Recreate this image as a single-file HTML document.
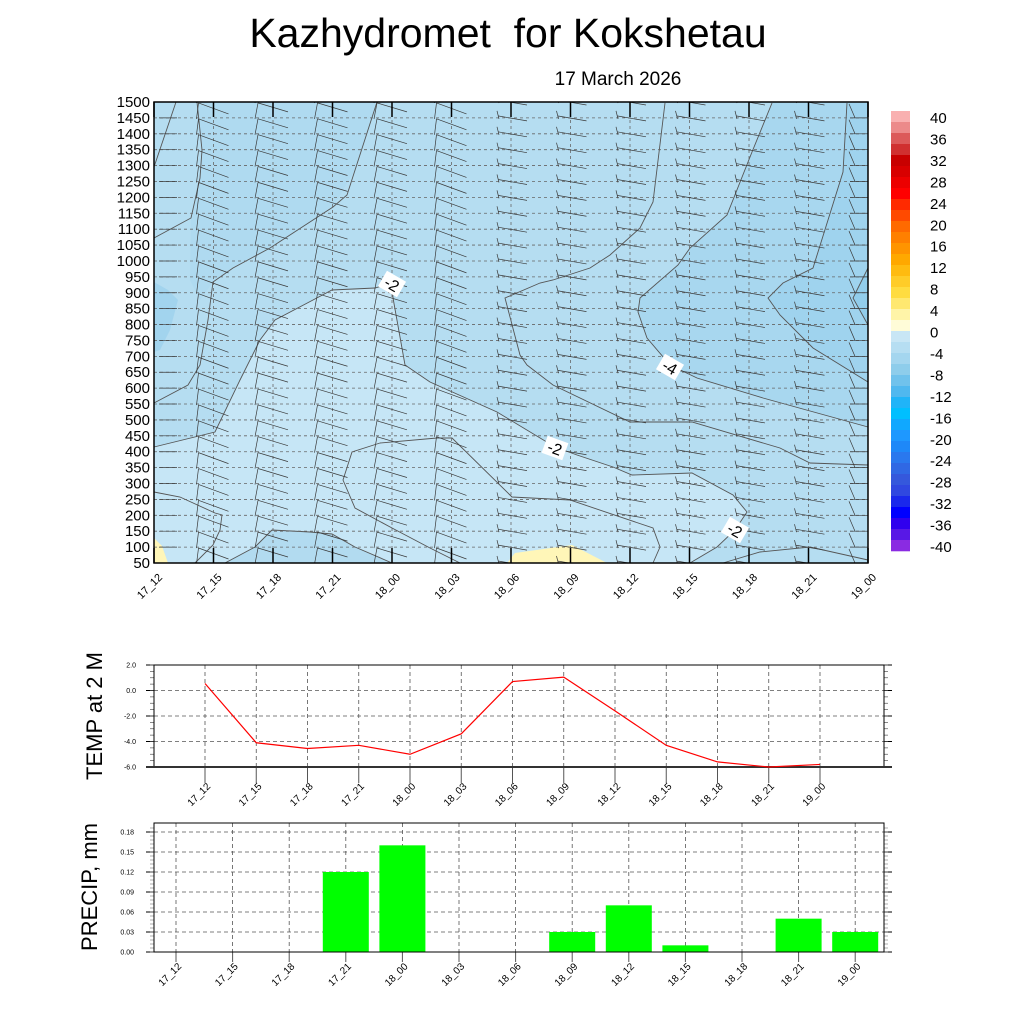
<!DOCTYPE html>
<html><head><meta charset="utf-8"><style>
html,body{margin:0;padding:0;background:#fff;}
svg{display:block;font-family:"Liberation Sans",sans-serif;}
</style></head><body>
<svg id="svg" width="1024" height="1024" viewBox="0 0 1024 1024">
<defs><clipPath id="pc"><rect x="154" y="102" width="714" height="461"/></clipPath></defs>
<text x="508" y="47" font-size="41" text-anchor="middle" xml:space="preserve">Kazhydromet  for Kokshetau</text>
<text x="618" y="85" font-size="19" text-anchor="middle">17 March 2026</text>
<g id="main">
  <rect x="154" y="102" width="714" height="461" fill="#b5ddf1"/>
  <polygon fill="#c6e6f6" points="154,447 215,432 240,380 260,340 275,320 313,300 332,290 375,288 392,283 393,298 405,365 430,382 497,412 555,447 577,455 613,467 632,475 692,473 733,495 747,512 735,530 717,547 690,563 154,563"/>
  <polygon fill="#b2dbf0" points="225,563 255,547 272,530 310,532 332,534 355,547 392,563"/>
  <polygon fill="#a8d7ef" points="772,103 752,152 727,215 690,248 678,265 640,298 638,312 647,338 670,365 697,378 763,398 868,427 868,103"/>
  <polygon fill="#9fd3ee" points="847,103 843,172 813,268 783,283 768,298 780,315 813,348 868,382 868,103"/>
  <polygon fill="#92cdeb" points="856,103 868,103 868,270 853,298 868,325 868,103"/>
  <polygon fill="#a2d4ee" points="154,282 168,290 178,300 170,330 160,350 154,352"/>
  <polygon fill="#afdaf0" points="197,102 377,102 355,170 333,207 313,220 270,248 233,268 213,282 200,300 190,280 191,218 200,178 202,150"/>
  <polygon fill="#fff6b8" points="154,538 162,546 168,563 154,563"/>
  <polygon fill="#fff6b8" points="507,563 515,553 572,545 607,563"/>
  <g id="contours" fill="none" stroke="#555" stroke-width="0.9"></g>
  <g id="grid"></g>
  <g id="barbs" stroke="#3a3a3a" stroke-width="0.7" clip-path="url(#pc)"></g>
  <g id="clabels"></g>
  <rect x="154" y="102" width="714" height="461" fill="none" stroke="#000" stroke-width="1.5"/>
  <g id="mainAxes"></g>
</g>
<g id="cbar"></g>
<g id="temp"></g>
<g id="precip"></g>
</svg>
<script>
const NS="http://www.w3.org/2000/svg";
const times=["17_12","17_15","17_18","17_21","18_00","18_03","18_06","18_09","18_12","18_15","18_18","18_21","19_00"];
const levels=[50,100,150,200,250,300,350,400,450,500,550,600,650,700,750,800,850,900,950,1000,1050,1100,1150,1200,1250,1300,1350,1400,1450,1500];
const tempValues=[0.55,-4.1,-4.55,-4.3,-5.0,-3.4,0.7,1.05,-1.6,-4.3,-5.6,-6.0,-5.8];
const tempTicks=[2.0,0.0,-2.0,-4.0,-6.0];
const precipValues=[0,0,0,0.12,0.16,0,0,0.03,0.07,0.01,0,0.05,0.03];
const precipTicks=[0,0.03,0.06,0.09,0.12,0.15,0.18];
const barbStyle=[0,1,2,2,2,1,3,3,3,3,3,3,4];
const cbarLabels=[40,36,32,28,24,20,16,12,8,4,0,-4,-8,-12,-16,-20,-24,-28,-32,-36,-40];
const cbarColorsHigh=["#f9b0b0","#ec8a8a","#dc5a5a","#d03030","#c80000","#d80000","#ec0000","#ff0000","#ff2a00","#ff4a00","#ff6a00","#ff8000","#ff9400","#ffa800","#ffbb10","#ffcc28","#ffdc40","#ffe870","#fff4a8","#fffcd8"];
const cbarColorsLow=["#c8e6f5","#b6def2","#a4d6ef","#8ecdeb","#70c2ec","#50b8ef","#20b4f8","#00bfff","#10a8ff","#1e98ff","#1e88f8","#2a78ee","#3068e4","#3558dc","#3048e0","#1a28ec","#0000ff","#3000ee","#5818e6","#8a2be2"];

function el(tag,attrs,parent){const e=document.createElementNS(NS,tag);for(const k in attrs)e.setAttribute(k,attrs[k]);parent.appendChild(e);return e;}

const mX0=154,mX1=868,mY0=563,mY1=102;
function mx(i){return mX0+i*(mX1-mX0)/(times.length-1);}
function my(h){return mY0-(h-50)*(mY0-mY1)/(1500-50);}
const grid=document.getElementById('grid');
levels.forEach(h=>{const l=el('line',{x1:mX0,x2:mX1,y1:my(h),y2:my(h),stroke:'#666','stroke-width':0.8,'stroke-dasharray':'3,3'},grid);

});
times.forEach((t,i)=>{const l=el('line',{x1:mx(i),x2:mx(i),y1:mY1,y2:mY0,stroke:'#666','stroke-width':0.8,'stroke-dasharray':'3,3'},grid);

});
const ax=document.getElementById('mainAxes');
levels.forEach(h=>{const t=el('text',{x:150,y:my(h)+5,'font-size':15,'text-anchor':'end'},ax);t.textContent=h;

});
times.forEach((s,i)=>{const x=mx(i);
el('line',{x1:x,x2:x,y1:mY0,y2:mY0-15,stroke:'#000','stroke-width':1.5},ax);
el('line',{x1:x,x2:x,y1:mY1,y2:mY1+15,stroke:'#000','stroke-width':1.5},ax);
const t=el('text',{x:x+9,y:mY0+15,'font-size':11,'text-anchor':'end',transform:`rotate(-45 ${x+9} ${mY0+15})`},ax);t.textContent=s;

});

const bg=document.getElementById('barbs');
times.forEach((s,i)=>{const x=mx(i);levels.forEach(h=>{const y=my(h);const st=barbStyle[i];let d='';
if(st===0){d=`M${x+5},${y}L${x+23},${y}`;}
else if(st===1){d=`M${x-17},${y+1}L${x-15},${y-15}M${x-15},${y-15}L${x+15},${y-4}`;}
else if(st===2){d=`M${x-18},${y+1}L${x-15},${y-15}M${x-15},${y-15}L${x+15},${y-6}`;}
else if(st===3){d=`M${x-14},${y-7}L${x-12},${y+1}M${x-13},${y-2}L${x+16},${y+3}`;}
else {d=`M${x-18},${y}L${x},${y}M${x-19},${y-14}L${x-13},${y}`;}
const p=el('path',{d:d,fill:'none'},bg);

});});

const cl=document.getElementById('contours');
const lines=[
"176,102 154,167","197,102 202,150 200,178 191,218 154,238",
"377,102 347,195 333,207 313,220 270,248 233,268 213,282 208,320 200,365 188,385 154,403",
"154,447 215,432 240,380 260,340 275,320 313,300 332,290 375,288 392,283 393,298 405,365 430,382 497,412 555,447 577,455 613,467 632,475 692,473 733,495 747,512 735,530 717,547 690,563",
"772,103 752,152 727,215 690,248 678,265 640,298 638,312 647,338 670,365 697,378 763,398 868,427",
"665,103 653,202 640,228 610,255 590,268 553,280 540,283 505,298 520,355 527,365 553,385 630,422 692,422 780,448 810,463 868,465",
"847,103 843,172 813,268 783,283 768,298 780,315 813,348 868,382",
"868,268 853,298 868,325",
"380,443 437,438 452,438 512,497 570,500 653,528 660,547 653,563",
"380,443 352,452 343,480 355,508 392,528 430,548 460,563",
"723,563 760,552 810,547 868,560",
"154,492 180,497 215,513 222,515 220,530 213,545 195,563",
"225,563 255,547 272,530 310,532 332,534 355,547 392,563"];
lines.forEach(pts=>{const p=el('polyline',{points:pts},cl);

});
const clab=document.getElementById('clabels');
[[392,284,'-2',-60],[670,367,'-4',-60],[555,448,'-2',-70],[735,530,'-2',-60]].forEach(a=>{
const g=el('g',{transform:`translate(${a[0]},${a[1]}) rotate(${a[3]+90})`},clab);
el('rect',{x:-11,y:-9,width:22,height:18,fill:'#fff'},g);
const t=el('text',{x:0,y:6,'font-size':16,'text-anchor':'middle'},g);t.textContent=a[2];

});

const cb=document.getElementById('cbar');
const allC=cbarColorsHigh.concat(cbarColorsLow);
allC.forEach((c,k)=>{const r=el('rect',{x:891,y:111+k*11,width:19,height:11.3,fill:c},cb);

});
cbarLabels.forEach((v,k)=>{const t=el('text',{x:930,y:117+k*21.45+6,'font-size':15},cb);t.textContent=v;

});

const tg=document.getElementById('temp');
const tX0=154,tX1=884,tY0=767,tY1=665;
function tx(i){return 205+i*51.25;}
function ty(v){return tY0-(v+6)*(tY0-tY1)/8;}
times.forEach((s,i)=>{const x=tx(i);
el('line',{x1:x,x2:x,y1:tY1,y2:tY0,stroke:'#555','stroke-width':0.8,'stroke-dasharray':'4,3'},tg);
el('line',{x1:x,x2:x,y1:tY0,y2:tY0+16,stroke:'#555','stroke-width':1},tg);
const t=el('text',{x:x+6,y:tY0+20,'font-size':10,'text-anchor':'end',transform:`rotate(-45 ${x+6} ${tY0+20})`},tg);t.textContent=s;

});
tempTicks.forEach(v=>{const y=ty(v);
el('line',{x1:tX0,x2:tX1,y1:y,y2:y,stroke:'#555','stroke-width':0.8,'stroke-dasharray':'4,3'},tg);
el('line',{x1:tX0-8,x2:tX0,y1:y,y2:y,stroke:'#000'},tg);el('line',{x1:tX1,x2:tX1+8,y1:y,y2:y,stroke:'#000'},tg);
const t=el('text',{x:tX0-18,y:y+2.5,'font-size':7,'text-anchor':'end'},tg);t.textContent=v.toFixed(1);

});
for(let v=-6;v<=2;v+=0.5){const y=ty(v);el('line',{x1:tX0-4,x2:tX0,y1:y,y2:y,stroke:'#555','stroke-width':0.7},tg);el('line',{x1:tX1,x2:tX1+4,y1:y,y2:y,stroke:'#555','stroke-width':0.7},tg);}
el('rect',{x:tX0,y:tY1,width:tX1-tX0,height:tY0-tY1,fill:'none',stroke:'#000','stroke-width':1},tg);
el('line',{x1:tX0-8,x2:tX1+8,y1:tY0,y2:tY0,stroke:'#333','stroke-width':2},tg);
const tl=el('polyline',{points:tempValues.map((v,i)=>tx(i)+','+ty(v)).join(' '),fill:'none',stroke:'#ff0000','stroke-width':1.2},tg);


const tt=el('text',{x:102,y:716,'font-size':22,'text-anchor':'middle',transform:'rotate(-90 102 716)'},tg);tt.textContent='TEMP at 2 M';



const pg=document.getElementById('precip');
const pX0=154,pX1=884,pY0=952,pY1=823;
function px(i){return 176+i*56.6;}
function py(v){return pY0-v*(952-832)/0.18;}
times.forEach((s,i)=>{const x=px(i);
el('line',{x1:x,x2:x,y1:pY1,y2:pY0,stroke:'#555','stroke-width':0.8,'stroke-dasharray':'4,3'},pg);
el('line',{x1:x,x2:x,y1:pY0,y2:pY0+10,stroke:'#555','stroke-width':1},pg);
const t=el('text',{x:x+6,y:pY0+15,'font-size':10,'text-anchor':'end',transform:`rotate(-45 ${x+6} ${pY0+15})`},pg);t.textContent=s;

});
precipTicks.forEach(v=>{const y=py(v);
el('line',{x1:pX0,x2:pX1,y1:y,y2:y,stroke:'#555','stroke-width':0.8,'stroke-dasharray':'4,3'},pg);
el('line',{x1:pX0-8,x2:pX0,y1:y,y2:y,stroke:'#000'},pg);el('line',{x1:pX1,x2:pX1+8,y1:y,y2:y,stroke:'#000'},pg);
const t=el('text',{x:pX0-20,y:y+2.5,'font-size':7,'text-anchor':'end'},pg);t.textContent=v.toFixed(2);

});
for(let v=0;v<=0.19;v+=0.006){const y=py(v);if(y<pY1)continue;el('line',{x1:pX0-4,x2:pX0,y1:y,y2:y,stroke:'#777','stroke-width':0.6},pg);el('line',{x1:pX1,x2:pX1+4,y1:y,y2:y,stroke:'#777','stroke-width':0.6},pg);}
precipValues.forEach((v,i)=>{if(v<=0)return;const r=el('rect',{x:px(i)-23,y:py(v),width:46,height:py(0)-py(v),fill:'#00ff00'},pg);

});
el('rect',{x:pX0,y:pY1,width:pX1-pX0,height:pY0-pY1,fill:'none',stroke:'#000','stroke-width':1},pg);
const pt=el('text',{x:97,y:887,'font-size':22,'text-anchor':'middle',transform:'rotate(-90 97 887)'},pg);pt.textContent='PRECIP, mm';


</script>
</body></html>
